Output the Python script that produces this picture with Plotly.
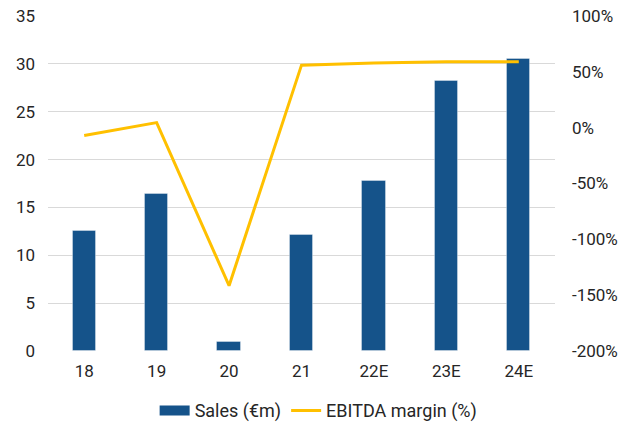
import plotly.graph_objects as go

# Data
years = ['18', '19', '20', '21', '22E', '23E', '24E']
sales = [12.5, 16.4, 0.9, 12.1, 17.8, 28.2, 30.5]          # €m, left axis
ebitda_margin = [-7, 4.5, -141.5, 56, 58, 59, 59]          # %, right axis

# right axis ticks (plain hyphen, as in the original)
margin_ticks = [-200, -150, -100, -50, 0, 50, 100]
margin_tick_labels = ['-200%', '-150%', '-100%', '-50%', '0%', '50%', '100%']

bar_color = '#15538A'
line_color = '#FFC000'
font_color = '#262626'

fig = go.Figure()

# Sales bars on primary axis
fig.add_trace(go.Bar(
    x=years,
    y=sales,
    name='Sales (€m)',
    marker=dict(color=bar_color, line=dict(color='rgba(255,255,255,0.35)', width=1)),
    width=0.32,
    showlegend=False,
))

# legend entry drawn as a wide block like the original
fig.add_trace(go.Scatter(
    x=[None], y=[None],
    name='Sales (€m)',
    mode='lines',
    line=dict(color=bar_color, width=10),
))

# EBITDA margin line on secondary axis
fig.add_trace(go.Scatter(
    x=years,
    y=ebitda_margin,
    name='EBITDA margin (%)',
    mode='lines',
    line=dict(color=line_color, width=3),
    yaxis='y2',
))

fig.update_layout(
    width=626,
    height=424,
    margin=dict(l=48, r=71, t=16, b=73),
    plot_bgcolor='white',
    paper_bgcolor='white',
    font=dict(family='Roboto', size=17, color=font_color),
    bargap=0,
    xaxis=dict(showgrid=False, showline=False, ticks='', ticklabelstandoff=8,
               automargin=False),
    yaxis=dict(
        range=[0, 35], dtick=5,
        showgrid=True, gridcolor='#D9D9D9', gridwidth=1,
        zeroline=False, showline=False,
        ticklabelstandoff=12, automargin=False,
    ),
    yaxis2=dict(
        range=[-200, 100],
        tickvals=margin_ticks, ticktext=margin_tick_labels,
        overlaying='y', side='right',
        showgrid=False, zeroline=False, showline=False,
        ticklabelstandoff=16, automargin=False,
    ),
    legend=dict(
        orientation='h',
        xref='container', yref='container',
        x=0.509, xanchor='center',
        y=0.075, yanchor='top',
        font=dict(size=18),
        itemwidth=30,
        traceorder='normal',
    ),
)

# page has a default 8px body margin; drop it so the chart sits at 0,0
fig.write_html("out.html", config={'displayModeBar': False},
               post_script="document.body.style.margin='0';")
